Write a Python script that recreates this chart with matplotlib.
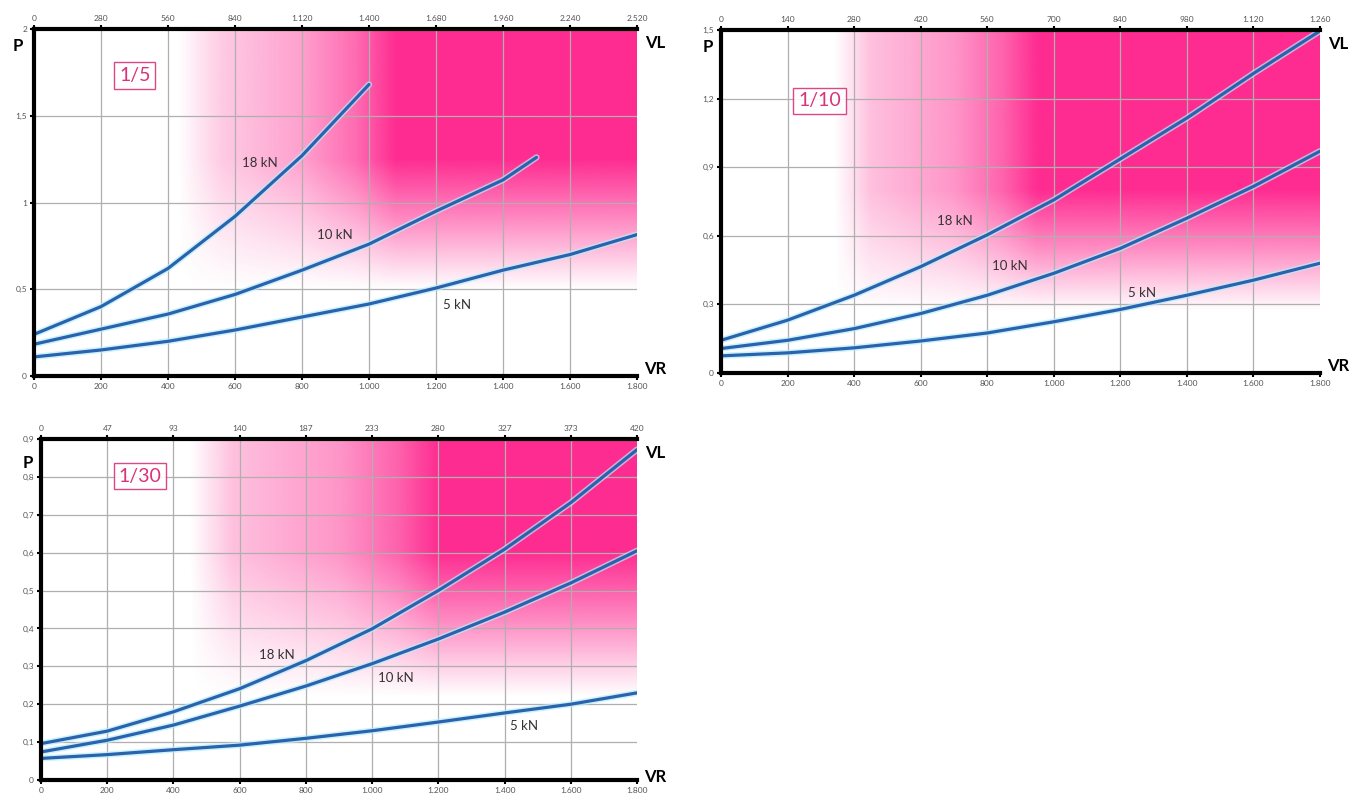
import numpy as np
import matplotlib
matplotlib.use("Agg")
import matplotlib.pyplot as plt
from matplotlib.colors import to_rgb

plt.rcParams['font.family'] = ['Lato', 'DejaVu Sans']

# ---------------- data ----------------
x_vr = [0, 200, 400, 600, 800, 1000, 1200, 1400, 1600, 1800]
x_labels = ["0", "200", "400", "600", "800", "1.000", "1.200", "1.400", "1.600", "1.800"]

# Panel 1/5
p1_top_labels = ["0", "280", "560", "840", "1.120", "1.400", "1.680", "1.960", "2.240", "2.520"]
p1_yticks = [0, 0.5, 1, 1.5, 2]
p1_ylabels = ["0", "0,5", "1", "1,5", "2"]
p1_18_x = [0, 200, 400, 600, 800, 1000]
p1_18_y = [0.24, 0.40, 0.62, 0.92, 1.27, 1.68]
p1_10_x = [0, 200, 400, 600, 800, 1000, 1200, 1400, 1500]
p1_10_y = [0.183, 0.27, 0.357, 0.47, 0.61, 0.76, 0.95, 1.13, 1.26]
p1_5_x = x_vr
p1_5_y = [0.11, 0.15, 0.20, 0.265, 0.34, 0.415, 0.507, 0.61, 0.70, 0.815]

# Panel 1/10
p2_top_labels = ["0", "140", "280", "420", "560", "700", "840", "980", "1.120", "1.260"]
p2_yticks = [0, 0.3, 0.6, 0.9, 1.2, 1.5]
p2_ylabels = ["0", "0,3", "0,6", "0,9", "1,2", "1,5"]
p2_18_y = [0.143, 0.231, 0.34, 0.465, 0.604, 0.757, 0.936, 1.115, 1.31, 1.496]
p2_10_y = [0.107, 0.143, 0.194, 0.26, 0.34, 0.436, 0.545, 0.677, 0.816, 0.97]
p2_5_y = [0.075, 0.088, 0.11, 0.14, 0.175, 0.224, 0.278, 0.34, 0.406, 0.48]

# Panel 1/30
p3_top_labels = ["0", "47", "93", "140", "187", "233", "280", "327", "373", "420"]
p3_yticks = [0, 0.1, 0.2, 0.3, 0.4, 0.5, 0.6, 0.7, 0.8, 0.9]
p3_ylabels = ["0", "0,1", "0,2", "0,3", "0,4", "0,5", "0,6", "0,7", "0,8", "0,9"]
p3_18_y = [0.096, 0.129, 0.18, 0.241, 0.315, 0.399, 0.50, 0.609, 0.732, 0.872]
p3_10_y = [0.074, 0.105, 0.145, 0.195, 0.248, 0.307, 0.372, 0.443, 0.52, 0.605]
p3_5_y = [0.057, 0.067, 0.08, 0.092, 0.11, 0.13, 0.153, 0.177, 0.20, 0.23]

series_names = ["18 kN", "10 kN", "5 kN"]

# ---------------- style ----------------
MAGENTA = '#FE2C91'
LINE = '#2B62AE'
HALO = '#B5EEFA'
GRID = '#AFAFAF'
TXT = '#333333'
BOXPINK = '#D8337A'

fig = plt.figure(figsize=(13.65, 8.02), dpi=100)


def gradient(ax, xmax, ymax, hx, hv, vy, vv):
    nx, ny = 600, 400
    xs = np.linspace(0, xmax, nx)
    ys = np.linspace(0, ymax, ny)
    h = np.interp(xs, hx, hv)
    v = np.interp(ys, vy, vv)
    a = np.outer(v, h)
    img = np.zeros((ny, nx, 4))
    img[..., :3] = to_rgb(MAGENTA)
    img[..., 3] = a
    ax.imshow(img, extent=(0, xmax, 0, ymax), origin='lower', aspect='auto',
              interpolation='bilinear', zorder=0)


def panel(rect, ymax, yticks, ylabels, top_labels, curves, labels, title, title_pos,
          grad, pxy, vlxy, vrxy):
    ax = fig.add_axes(rect)
    ax.set_xlim(0, 1800)
    ax.set_ylim(0, ymax)
    gradient(ax, 1800, ymax, *grad)
    for xv in x_vr[1:-1]:
        ax.axvline(xv, color=GRID, lw=0.9, zorder=1)
    for yv in yticks[1:-1]:
        ax.axhline(yv, color=GRID, lw=0.9, zorder=1)
    for (xs, ys) in curves:
        ax.plot(xs, ys, color=HALO, lw=4.5, solid_capstyle='round', zorder=2, alpha=0.7)
        ax.plot(xs, ys, color=LINE, lw=2.3, solid_capstyle='round', zorder=3)
    for name, (lx, ly) in zip(series_names, labels):
        ax.text(lx, ly, name, fontsize=9.5, color=TXT, ha='center', va='center', zorder=4)
    ax.text(title_pos[0], title_pos[1], title, fontsize=14, color=BOXPINK, ha='center',
            va='center', zorder=5,
            bbox=dict(boxstyle='square,pad=0.25', fc='white', ec=BOXPINK, lw=1.0, alpha=0.9))
    ax.set_xticks(x_vr)
    ax.set_xticklabels(x_labels)
    ax.set_yticks(yticks)
    ax.set_yticklabels(ylabels)
    ax.tick_params(axis='both', labelsize=6, colors='#555555', length=3, width=1.5,
                   pad=2)
    ax.tick_params(axis='both', color='black')
    for s in ['left', 'top', 'bottom']:
        ax.spines[s].set_linewidth(3)
        ax.spines[s].set_color('black')
        ax.spines[s].set_zorder(6)
    ax.spines['right'].set_visible(False)
    top = ax.twiny()
    top.set_xlim(0, 1800)
    top.set_xticks(x_vr)
    top.set_xticklabels(top_labels)
    top.tick_params(axis='x', labelsize=6, labelcolor='#555555', length=3, width=1.5,
                    pad=2, color='black')
    for s in ['left', 'right', 'bottom', 'top']:
        top.spines[s].set_visible(False)
    ax.text(pxy[0], pxy[1], 'P', transform=ax.transAxes, fontsize=12, fontweight='bold',
            ha='center', va='center')
    ax.text(vlxy[0], vlxy[1], 'VL', transform=ax.transAxes, fontsize=12, fontweight='bold',
            ha='center', va='center')
    ax.text(vrxy[0], vrxy[1], 'VR', transform=ax.transAxes, fontsize=12, fontweight='bold',
            ha='center', va='center')
    return ax


W, H = 1365, 802


def rect(x0, x1, y0, y1):
    return [x0 / W, 1 - y1 / H, (x1 - x0) / W, (y1 - y0) / H]


# Panel 1/5
panel(rect(34, 637, 29, 376), 2, p1_yticks, p1_ylabels, p1_top_labels,
      [(p1_18_x, p1_18_y), (p1_10_x, p1_10_y), (p1_5_x, p1_5_y)],
      [(675, 1.23), (898, 0.81), (1263, 0.41)], '1/5', (301, 1.73),
      ([430, 560, 800, 960, 1080, 1800], [0, 0.25, 0.45, 0.7, 1.0, 1.0],
       [0, 0.5, 0.9, 1.25, 2], [0, 0, 0.55, 1, 1]),
      (-0.027, 0.95), (1.03, 0.96), (1.03, 0.02))

# Panel 1/10
panel(rect(721, 1320, 30, 373), 1.5, p2_yticks, p2_ylabels, p2_top_labels,
      [(x_vr, p2_18_y), (x_vr, p2_10_y), (x_vr, p2_5_y)],
      [(704, 0.665), (869, 0.47), (1264, 0.35)], '1/10', (296, 1.19),
      ([340, 450, 700, 850, 950, 1800], [0, 0.3, 0.5, 0.75, 1.0, 1.0],
       [0, 0.27, 0.55, 0.8, 1.5], [0, 0, 0.55, 1, 1]),
      (-0.022, 0.95), (1.03, 0.96), (1.03, 0.02))

# Panel 1/30
panel(rect(41, 637, 439, 780), 0.9, p3_yticks, p3_ylabels, p3_top_labels,
      [(x_vr, p3_18_y), (x_vr, p3_10_y), (x_vr, p3_5_y)],
      [(712, 0.33), (1072, 0.269), (1459, 0.143)], '1/30', (299, 0.802),
      ([450, 580, 900, 1080, 1200, 1800], [0, 0.3, 0.5, 0.75, 1.0, 1.0],
       [0, 0.22, 0.42, 0.6, 0.9], [0, 0, 0.55, 1, 1]),
      (-0.022, 0.93), (1.03, 0.96), (1.03, 0.01))

fig.savefig('out.png', dpi=100)
